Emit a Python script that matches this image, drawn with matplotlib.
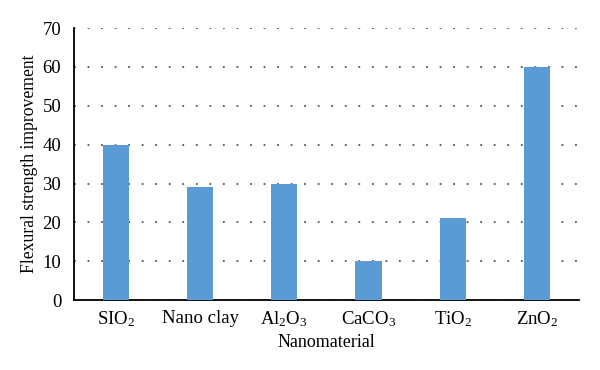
import matplotlib.pyplot as plt
import numpy as np

plt.rcParams['font.family'] = ['Liberation Serif', 'DejaVu Serif']
plt.rcParams['mathtext.default'] = 'regular'

materials = ['SIO$_2$', 'Nano clay', 'Al$_2$O$_3$', 'CaCO$_3$', 'TiO$_2$', 'ZnO$_2$']
improvement = [40, 29, 30, 10, 21, 60]

fig = plt.figure(figsize=(6, 3.7), dpi=100)
ax = fig.add_axes([0.123, 0.189, 0.842, 0.735])

x = np.arange(len(materials))
ax.bar(x, improvement, width=0.31, color='#5b9bd5', zorder=3)

ax.set_xlim(-0.5, len(materials) - 0.5)
ax.set_ylim(0, 70)
ax.set_yticks(range(0, 71, 10))
ax.set_xticks(x)
ax.set_xticklabels(materials)
ax.tick_params(axis='x', length=0, labelsize=13.5, pad=7)
ax.tick_params(axis='y', length=0, labelsize=13.5, pad=9)
ax.yaxis.grid(True, linestyle=(0, (1, 6.5)), color='#555555', linewidth=1.3)
ax.set_axisbelow(True)

for s in ['top', 'right']:
    ax.spines[s].set_visible(False)
ax.spines['left'].set_linewidth(1.3)
ax.spines['bottom'].set_linewidth(1.3)

ax.set_xlabel('Nanomaterial', fontsize=13, labelpad=3)
ax.set_ylabel('Flexural strength improvement', fontsize=12.7, labelpad=3)

fig.savefig('out.png', dpi=100)
